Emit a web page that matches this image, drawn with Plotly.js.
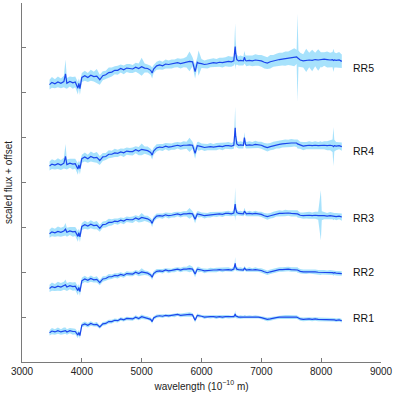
<!DOCTYPE html>
<html>
<head>
<meta charset="utf-8">
<script src="https://cdn.plot.ly/plotly-3.0.1.min.js"></script>
<style>
  html, body { margin: 0; padding: 0; background: #fff; }
  #chart { width: 396px; height: 394px; }
</style>
</head>
<body>
<div id="chart"></div>
<script>
// Stacked spectra RR1..RR5: dark line = mean flux, light band = spread.
// All values (units = y tick steps).

const wavelength = [
  3460, 3500, 3550, 3600, 3650, 3700, 3727, 3750, 3800, 3850,
  3890, 3934, 3950, 3968, 4000, 4050, 4100, 4150, 4200, 4250,
  4300, 4350, 4400, 4450, 4500, 4550, 4600, 4650, 4700, 4750,
  4800, 4850, 4900, 4950, 5000, 5050, 5100, 5150, 5175, 5200,
  5250, 5300, 5350, 5400, 5450, 5500, 5550, 5600, 5650, 5700,
  5750, 5800, 5850, 5893, 5930, 5950, 6000, 6050, 6100, 6150,
  6200, 6250, 6300, 6350, 6400, 6450, 6500, 6540, 6556, 6563,
  6570, 6590, 6620, 6650, 6700, 6717, 6735, 6750, 6800, 6850,
  6900, 6950, 7000, 7050, 7100, 7150, 7200, 7250, 7300, 7350,
  7400, 7450, 7500, 7550, 7590, 7605, 7620, 7650, 7700, 7750,
  7800, 7850, 7900, 7950, 7995, 8010, 8050, 8100, 8150, 8190,
  8205, 8220, 8250, 8300, 8345,
];

const fluxRR5 = [
  6.18, 6.23, 6.20, 6.24, 6.21, 6.25, 6.42, 6.21, 6.25, 6.22,
  6.24, 6.10, 6.21, 6.09, 6.34, 6.38, 6.34, 6.39, 6.36, 6.37,
  6.29, 6.38, 6.40, 6.45, 6.46, 6.50, 6.50, 6.54, 6.51, 6.55,
  6.54, 6.53, 6.57, 6.54, 6.58, 6.55, 6.54, 6.50, 6.44, 6.53,
  6.60, 6.62, 6.60, 6.64, 6.63, 6.64, 6.65, 6.67, 6.65, 6.67,
  6.68, 6.70, 6.69, 6.47, 6.68, 6.66, 6.65, 6.63, 6.64, 6.66,
  6.67, 6.66, 6.68, 6.67, 6.69, 6.70, 6.69, 6.71, 6.95, 7.03,
  6.90, 6.74, 6.71, 6.72, 6.71, 6.79, 6.72, 6.71, 6.72, 6.71,
  6.73, 6.72, 6.71, 6.68, 6.66, 6.69, 6.71, 6.73, 6.74, 6.75,
  6.76, 6.77, 6.78, 6.79, 6.80, 6.78, 6.76, 6.73, 6.71, 6.72,
  6.73, 6.72, 6.74, 6.73, 6.74, 6.73, 6.75, 6.74, 6.73, 6.74,
  6.72, 6.73, 6.72, 6.73, 6.70,
];
const spreadRR5 = [
  0.11, 0.12, 0.10, 0.12, 0.11, 0.13, 0.32, 0.12, 0.11, 0.13,
  0.12, 0.14, 0.11, 0.14, 0.10, 0.11, 0.10, 0.12, 0.11, 0.16,
  0.11, 0.10, 0.09, 0.11, 0.10, 0.09, 0.10, 0.09, 0.10, 0.09,
  0.10, 0.09, 0.10, 0.11, 0.20, 0.10, 0.09, 0.10, 0.12, 0.09,
  0.09, 0.10, 0.09, 0.10, 0.09, 0.10, 0.09, 0.10, 0.11, 0.10,
  0.12, 0.22, 0.10, 0.15, 0.11, 0.28, 0.10, 0.09, 0.10, 0.09,
  0.10, 0.09, 0.10, 0.11, 0.10, 0.12, 0.11, 0.10, 0.30, 0.52,
  0.30, 0.11, 0.10, 0.11, 0.10, 0.14, 0.11, 0.12, 0.11, 0.12,
  0.13, 0.12, 0.13, 0.14, 0.13, 0.15, 0.13, 0.14, 0.15, 0.14,
  0.16, 0.15, 0.17, 0.20, 0.16, 0.98, 0.18, 0.16, 0.15, 0.26,
  0.16, 0.24, 0.15, 0.24, 0.16, 0.17, 0.15, 0.18, 0.16, 0.17,
  0.26, 0.17, 0.16, 0.18, 0.15,
];

const fluxRR4 = [
  4.37, 4.41, 4.39, 4.42, 4.39, 4.43, 4.58, 4.40, 4.43, 4.41,
  4.42, 4.30, 4.39, 4.31, 4.53, 4.57, 4.53, 4.58, 4.55, 4.56,
  4.49, 4.57, 4.58, 4.63, 4.63, 4.66, 4.65, 4.68, 4.66, 4.70,
  4.69, 4.69, 4.73, 4.70, 4.74, 4.72, 4.71, 4.67, 4.61, 4.70,
  4.77, 4.79, 4.78, 4.81, 4.79, 4.80, 4.81, 4.83, 4.81, 4.83,
  4.83, 4.84, 4.83, 4.65, 4.82, 4.81, 4.80, 4.78, 4.79, 4.80,
  4.79, 4.80, 4.81, 4.80, 4.82, 4.82, 4.81, 4.83, 5.10, 5.22,
  5.05, 4.86, 4.83, 4.84, 4.83, 5.00, 4.85, 4.83, 4.84, 4.83,
  4.85, 4.84, 4.83, 4.80, 4.78, 4.80, 4.82, 4.84, 4.85, 4.86,
  4.87, 4.87, 4.88, 4.88, 4.88, 4.86, 4.85, 4.83, 4.81, 4.82,
  4.83, 4.82, 4.83, 4.82, 4.83, 4.82, 4.83, 4.82, 4.83, 4.82,
  4.80, 4.82, 4.81, 4.82, 4.80,
];
const spreadRR4 = [
  0.10, 0.11, 0.10, 0.12, 0.11, 0.12, 0.28, 0.11, 0.10, 0.12,
  0.11, 0.13, 0.10, 0.13, 0.09, 0.10, 0.09, 0.11, 0.10, 0.12,
  0.10, 0.09, 0.08, 0.09, 0.08, 0.09, 0.08, 0.08, 0.09, 0.08,
  0.08, 0.09, 0.08, 0.09, 0.13, 0.08, 0.09, 0.08, 0.10, 0.08,
  0.08, 0.07, 0.08, 0.07, 0.08, 0.07, 0.08, 0.07, 0.08, 0.09,
  0.08, 0.16, 0.08, 0.12, 0.08, 0.10, 0.07, 0.08, 0.07, 0.08,
  0.07, 0.08, 0.07, 0.08, 0.07, 0.08, 0.07, 0.08, 0.25, 0.47,
  0.22, 0.08, 0.07, 0.08, 0.07, 0.12, 0.08, 0.07, 0.08, 0.07,
  0.08, 0.07, 0.08, 0.08, 0.09, 0.08, 0.09, 0.08, 0.09, 0.08,
  0.09, 0.08, 0.09, 0.08, 0.09, 0.10, 0.09, 0.08, 0.09, 0.08,
  0.09, 0.08, 0.09, 0.08, 0.09, 0.08, 0.09, 0.10, 0.11, 0.14,
  0.43, 0.13, 0.09, 0.08, 0.09,
];

const fluxRR3 = [
  2.86, 2.90, 2.88, 2.91, 2.89, 2.92, 2.96, 2.89, 2.92, 2.90,
  2.91, 2.80, 2.88, 2.79, 3.02, 3.06, 3.03, 3.07, 3.04, 3.05,
  2.98, 3.06, 3.07, 3.11, 3.11, 3.14, 3.13, 3.16, 3.14, 3.18,
  3.17, 3.17, 3.21, 3.18, 3.22, 3.20, 3.19, 3.15, 3.09, 3.18,
  3.25, 3.26, 3.25, 3.28, 3.26, 3.27, 3.28, 3.30, 3.28, 3.30,
  3.30, 3.31, 3.30, 3.18, 3.30, 3.29, 3.28, 3.26, 3.27, 3.28,
  3.29, 3.29, 3.30, 3.29, 3.31, 3.31, 3.30, 3.32, 3.45, 3.52,
  3.42, 3.33, 3.31, 3.31, 3.30, 3.36, 3.31, 3.30, 3.31, 3.30,
  3.31, 3.30, 3.29, 3.26, 3.24, 3.26, 3.28, 3.30, 3.31, 3.31,
  3.32, 3.32, 3.31, 3.31, 3.31, 3.30, 3.29, 3.27, 3.26, 3.27,
  3.27, 3.26, 3.27, 3.26, 3.27, 3.26, 3.26, 3.25, 3.26, 3.25,
  3.24, 3.25, 3.24, 3.25, 3.23,
];
const spreadRR3 = [
  0.09, 0.10, 0.09, 0.11, 0.10, 0.10, 0.14, 0.10, 0.09, 0.11,
  0.10, 0.12, 0.09, 0.12, 0.08, 0.09, 0.08, 0.09, 0.08, 0.09,
  0.08, 0.07, 0.07, 0.08, 0.07, 0.06, 0.07, 0.06, 0.07, 0.06,
  0.06, 0.07, 0.06, 0.07, 0.10, 0.06, 0.07, 0.06, 0.08, 0.06,
  0.06, 0.05, 0.06, 0.05, 0.06, 0.05, 0.06, 0.05, 0.06, 0.06,
  0.06, 0.12, 0.06, 0.09, 0.06, 0.07, 0.05, 0.06, 0.05, 0.06,
  0.05, 0.06, 0.05, 0.06, 0.05, 0.06, 0.05, 0.06, 0.20, 0.37,
  0.18, 0.06, 0.05, 0.06, 0.05, 0.08, 0.06, 0.05, 0.06, 0.05,
  0.06, 0.05, 0.06, 0.06, 0.07, 0.06, 0.07, 0.06, 0.07, 0.06,
  0.07, 0.06, 0.07, 0.07, 0.07, 0.08, 0.07, 0.06, 0.07, 0.07,
  0.08, 0.07, 0.08, 0.09, 0.56, 0.10, 0.08, 0.07, 0.08, 0.07,
  0.08, 0.07, 0.08, 0.07, 0.08,
];

const fluxRR2 = [
  1.64, 1.68, 1.66, 1.69, 1.67, 1.70, 1.72, 1.67, 1.70, 1.68,
  1.69, 1.59, 1.66, 1.57, 1.81, 1.85, 1.82, 1.86, 1.83, 1.84,
  1.77, 1.85, 1.86, 1.90, 1.90, 1.93, 1.92, 1.95, 1.93, 1.97,
  1.96, 1.96, 2.00, 1.97, 2.01, 1.99, 1.98, 1.94, 1.89, 1.97,
  2.02, 2.03, 2.02, 2.05, 2.03, 2.04, 2.05, 2.07, 2.05, 2.07,
  2.07, 2.08, 2.07, 1.96, 2.07, 2.06, 2.05, 2.03, 2.04, 2.05,
  2.05, 2.05, 2.06, 2.05, 2.06, 2.06, 2.05, 2.07, 2.15, 2.20,
  2.12, 2.07, 2.06, 2.06, 2.05, 2.09, 2.06, 2.05, 2.06, 2.05,
  2.06, 2.05, 2.04, 2.01, 1.99, 2.01, 2.03, 2.05, 2.06, 2.06,
  2.07, 2.07, 2.06, 2.06, 2.06, 2.05, 2.04, 2.02, 2.01, 2.01,
  2.02, 2.01, 2.01, 2.00, 2.00, 2.00, 2.00, 1.99, 2.00, 1.99,
  1.98, 1.99, 1.98, 1.98, 1.97,
];
const spreadRR2 = [
  0.08, 0.09, 0.08, 0.10, 0.09, 0.09, 0.12, 0.09, 0.08, 0.09,
  0.09, 0.10, 0.08, 0.10, 0.07, 0.07, 0.06, 0.07, 0.06, 0.07,
  0.06, 0.06, 0.05, 0.06, 0.05, 0.05, 0.06, 0.05, 0.05, 0.05,
  0.05, 0.05, 0.05, 0.06, 0.08, 0.05, 0.05, 0.05, 0.06, 0.05,
  0.05, 0.04, 0.05, 0.04, 0.05, 0.04, 0.05, 0.04, 0.05, 0.05,
  0.05, 0.08, 0.05, 0.07, 0.05, 0.06, 0.04, 0.05, 0.04, 0.05,
  0.04, 0.05, 0.04, 0.05, 0.04, 0.05, 0.04, 0.05, 0.09, 0.14,
  0.08, 0.05, 0.04, 0.05, 0.04, 0.05, 0.05, 0.04, 0.05, 0.04,
  0.05, 0.04, 0.05, 0.05, 0.05, 0.05, 0.05, 0.05, 0.05, 0.05,
  0.05, 0.05, 0.05, 0.05, 0.05, 0.06, 0.05, 0.05, 0.05, 0.05,
  0.05, 0.05, 0.05, 0.05, 0.06, 0.05, 0.05, 0.05, 0.05, 0.05,
  0.06, 0.05, 0.05, 0.05, 0.05,
];

const fluxRR1 = [
  0.65, 0.69, 0.67, 0.70, 0.67, 0.70, 0.70, 0.67, 0.70, 0.68,
  0.68, 0.60, 0.66, 0.59, 0.82, 0.85, 0.82, 0.86, 0.83, 0.84,
  0.78, 0.85, 0.86, 0.90, 0.90, 0.93, 0.92, 0.96, 0.94, 0.97,
  0.96, 0.96, 1.00, 0.97, 1.01, 0.99, 0.98, 0.95, 0.90, 0.98,
  1.02, 1.03, 1.02, 1.04, 1.03, 1.04, 1.04, 1.06, 1.04, 1.05,
  1.05, 1.06, 1.05, 0.93, 1.04, 1.03, 1.02, 1.00, 1.01, 1.01,
  1.01, 1.00, 1.01, 1.00, 1.01, 1.01, 1.00, 1.01, 1.04, 1.07,
  1.03, 1.01, 1.00, 1.00, 1.00, 1.01, 1.00, 1.00, 1.00, 1.00,
  1.00, 1.00, 0.99, 0.97, 0.95, 0.96, 0.98, 0.99, 1.00, 1.00,
  1.01, 1.01, 1.00, 1.00, 1.00, 0.99, 0.98, 0.96, 0.95, 0.96,
  0.96, 0.95, 0.96, 0.95, 0.95, 0.95, 0.95, 0.94, 0.95, 0.94,
  0.94, 0.94, 0.93, 0.94, 0.92,
];
const spreadRR1 = [
  0.06, 0.07, 0.06, 0.07, 0.06, 0.07, 0.07, 0.06, 0.06, 0.07,
  0.06, 0.07, 0.06, 0.07, 0.05, 0.05, 0.05, 0.05, 0.04, 0.05,
  0.04, 0.04, 0.04, 0.04, 0.04, 0.04, 0.04, 0.04, 0.04, 0.04,
  0.04, 0.04, 0.04, 0.04, 0.05, 0.04, 0.04, 0.04, 0.05, 0.04,
  0.04, 0.03, 0.04, 0.03, 0.04, 0.03, 0.04, 0.03, 0.04, 0.04,
  0.04, 0.05, 0.04, 0.05, 0.04, 0.04, 0.03, 0.04, 0.03, 0.04,
  0.03, 0.04, 0.03, 0.04, 0.03, 0.04, 0.03, 0.04, 0.06, 0.08,
  0.05, 0.04, 0.03, 0.04, 0.03, 0.04, 0.04, 0.03, 0.04, 0.03,
  0.04, 0.03, 0.04, 0.04, 0.04, 0.04, 0.04, 0.04, 0.04, 0.04,
  0.04, 0.04, 0.04, 0.04, 0.04, 0.04, 0.04, 0.04, 0.04, 0.04,
  0.04, 0.04, 0.04, 0.04, 0.04, 0.04, 0.04, 0.04, 0.04, 0.04,
  0.04, 0.04, 0.04, 0.04, 0.04,
];

const labels = ["RR1", "RR2", "RR3", "RR4", "RR5"];
const labelY = [0.99, 2.00, 3.22, 4.70, 6.55];
const labelX = 8500;
const xTicks = [3000, 4000, 5000, 6000, 7000, 8000, 9000];
const yTicks = [0, 1, 2, 3, 4, 5, 6, 7, 8];

const LINE = "#1b45ec";
const BAND = "rgba(120, 210, 250, 0.65)";
const AXIS = "#7a7a7a";
const FONT = "Liberation Sans, Arial, sans-serif";

const spectra = [
  [fluxRR1, spreadRR1],
  [fluxRR2, spreadRR2],
  [fluxRR3, spreadRR3],
  [fluxRR4, spreadRR4],
  [fluxRR5, spreadRR5],
];

const traces = [];
spectra.forEach(([flux, spread]) => {
  traces.push({
    x: wavelength, y: flux.map((v, i) => v - spread[i]),
    type: "scatter", mode: "lines", line: { width: 0 },
    hoverinfo: "skip", showlegend: false,
  });
  traces.push({
    x: wavelength, y: flux.map((v, i) => v + spread[i]),
    type: "scatter", mode: "lines", line: { width: 0 },
    fill: "tonexty", fillcolor: BAND,
    hoverinfo: "skip", showlegend: false,
  });
});
spectra.forEach(([flux]) => {
  traces.push({
    x: wavelength, y: flux,
    type: "scatter", mode: "lines",
    line: { color: LINE, width: 1.2 },
    showlegend: false,
  });
});

const layout = {
  width: 396, height: 394,
  margin: { l: 22, r: 15, t: 3, b: 32 },
  paper_bgcolor: "#fff", plot_bgcolor: "#fff",
  font: { family: FONT, size: 10, color: "#222" },
  showlegend: false,
  xaxis: {
    range: [3000, 9000], tickvals: xTicks, ticktext: xTicks.map(String),
    ticks: "inside", ticklen: 4, tickcolor: AXIS, tickwidth: 1,
    showline: true, linecolor: AXIS, linewidth: 1,
    showgrid: false, zeroline: false,
    tickfont: { size: 10, color: "#222" },
    title: { text: "wavelength (10<sup>−10</sup> m)", font: { size: 10 }, standoff: 6 },
  },
  yaxis: {
    range: [0, 8], tickvals: yTicks, showticklabels: false,
    ticks: "inside", ticklen: 4, tickcolor: AXIS, tickwidth: 1,
    showline: true, linecolor: AXIS, linewidth: 1,
    showgrid: false, zeroline: false,
    title: { text: "scaled flux + offset", font: { size: 10 }, standoff: 6 },
  },
  annotations: labels.map((t, i) => ({
    x: labelX, y: labelY[i], text: t, showarrow: false,
    xanchor: "left", yanchor: "middle",
    font: { size: 10.5, color: "#111" },
  })),
};

Plotly.newPlot("chart", traces, layout, { displayModeBar: false, staticPlot: true });
</script>
</body>
</html>
